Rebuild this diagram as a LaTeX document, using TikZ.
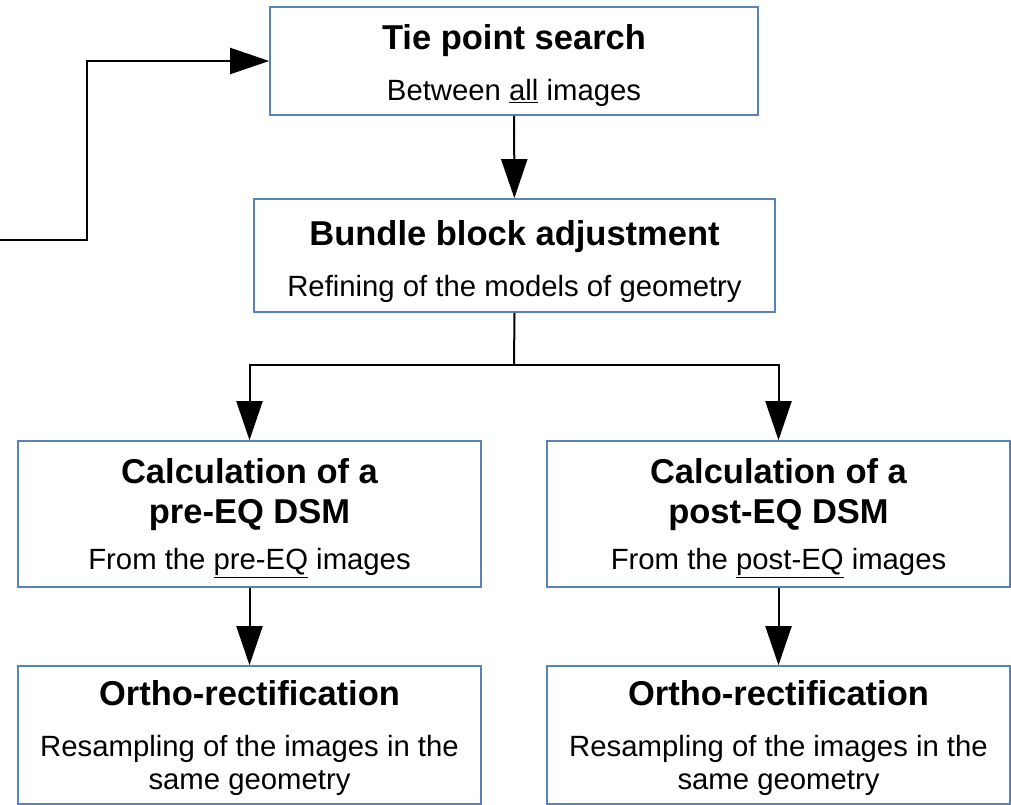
\documentclass[tikz,border=0pt]{standalone}
\usepackage{fontspec}
\setmainfont{Liberation Sans}
\usetikzlibrary{arrows.meta}

\definecolor{boxblue}{RGB}{90,130,186}
\newcommand{\ttlfont}{\fontsize{34.5}{40}\selectfont\bfseries}
\newcommand{\subfont}{\fontsize{29.3}{33}\selectfont}
\newcommand{\topgap}[1]{\rule{0pt}{#1}}

\tikzset{
  stepbox/.style={draw=boxblue,line width=1.6pt,inner sep=0pt,align=center,font=\subfont},
  flow/.style={line width=2pt,-{Triangle[length=39pt,width=26pt]}},
  link/.style={line width=2pt}
}

\begin{document}
\begin{tikzpicture}[x=1pt,y=1pt]
  \useasboundingbox (0,0) rectangle (1011,-805);
  \node [stepbox,minimum width=488pt,minimum height=108pt] (tie) at (514,-61)
        {\topgap{34pt}{\ttlfont Tie point search}\\[18pt]Between \underline{all} images};
  \node [stepbox,minimum width=521pt,minimum height=113pt] (bba) at (514.5,-255.5)
        {\topgap{38pt}{\ttlfont Bundle block adjustment}\\[18pt]Refining of the models of geometry};
  \node [stepbox,minimum width=463pt,minimum height=146pt] (pre) at (249.5,-514)
        {\topgap{34pt}{\ttlfont Calculation of a}\\[7pt]{\ttlfont pre-EQ DSM}\\[13pt]From the \underline{pre-EQ} images};
  \node [stepbox,minimum width=463pt,minimum height=146pt] (post) at (778.5,-514)
        {\topgap{34pt}{\ttlfont Calculation of a}\\[7pt]{\ttlfont post-EQ DSM}\\[13pt]From the \underline{post-EQ} images};
  \node [stepbox,minimum width=463pt,minimum height=138pt] (orthoL) at (249.5,-735)
        {\topgap{32pt}{\ttlfont Ortho-rectification}\\[18pt]Resampling of the images in the\\same geometry};
  \node [stepbox,minimum width=463pt,minimum height=138pt] (orthoR) at (778.5,-735)
        {\topgap{32pt}{\ttlfont Ortho-rectification}\\[18pt]Resampling of the images in the\\same geometry};
  % incoming line from the left
  \coordinate (in) at (0,-240);
  \coordinate (split) at (514,-365);
  \draw [flow] (in) -- (87,-240) |- (tie.west);
  \draw [flow] (tie) -- (bba);
  \draw [link] (bba.south) -- (split);
  \draw [flow] (split) -| (pre.north);
  \draw [flow] (split) -| (post.north);
  \draw [flow] (pre) -- (orthoL);
  \draw [flow] (post) -- (orthoR);
\end{tikzpicture}
\end{document}
